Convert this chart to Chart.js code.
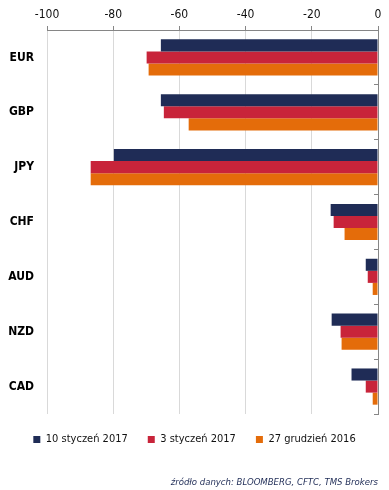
<!DOCTYPE html>
<html>
<head>
<meta charset="utf-8">
<script src="https://cdn.jsdelivr.net/npm/chart.js@4"></script>
<style>
  html, body { margin: 0; padding: 0; background: #fff; }
  #wrap { position: relative; width: 389px; height: 490px; }
  #zrodlo {
    position: absolute; right: 11px; top: 476px;
    font: italic 9.5px 'DejaVu Sans Condensed', 'DejaVu Sans', sans-serif;
    color: #1f2c56; white-space: nowrap;
  }
</style>
</head>
<body>
<div id="wrap">
  <canvas id="myChart"></canvas>
  <div id="zrodlo">źródło danych: BLOOMBERG, CFTC, TMS Brokers</div>
</div>
<script>
var categories = ['EUR', 'GBP', 'JPY', 'CHF', 'AUD', 'NZD', 'CAD'];
var seria_10_sty = [-65.6, -65.6, -79.8, -14.3, -3.7, -14.0, -8.0];
var seria_3_sty = [-69.9, -64.7, -86.8, -13.4, -3.1, -11.3, -3.7];
var seria_27_gru = [-69.3, -57.2, -86.8, -10.1, -1.6, -11.0, -1.6];
var xTicks = [-100, -80, -60, -40, -20, 0];

var font = "'DejaVu Sans Condensed', 'DejaVu Sans', sans-serif";

var ctx = document.getElementById('myChart').getContext('2d');
var chart = new Chart(ctx, {
    type: 'bar',
    data: {
        labels: categories,
        datasets: [{
            label: '10 styczeń 2017',
            data: seria_10_sty,
            backgroundColor: '#1f2c56'
        }, {
            label: '3 styczeń 2017',
            data: seria_3_sty,
            backgroundColor: '#c8243a'
        }, {
            label: '27 grudzień 2016',
            data: seria_27_gru,
            backgroundColor: '#e46c0a'
        }]
    },
    options: {
        indexAxis: 'y',
        responsive: true,
        maintainAspectRatio: false,
        animation: false,
        categoryPercentage: 0.66,
        barPercentage: 1,
        layout: { padding: { top: 0, left: 0, right: 0, bottom: 35 } },
        scales: {
            x: {
                position: 'top',
                min: -100,
                max: 0,
                afterBuildTicks: function (scale) {
                    scale.ticks = xTicks.map(function (v) { return { value: v }; });
                },
                afterFit: function (scale) { scale.height = 30; },
                grid: { color: '#d9d9d9', tickColor: '#868686', tickLength: 4 },
                border: { color: '#868686' },
                ticks: { color: '#111', font: { family: font, size: 12 }, padding: 4, maxRotation: 0 }
            },
            y: {
                position: 'left',
                afterFit: function (scale) { scale.width = 47; },
                grid: { display: false, drawTicks: false },
                border: { display: false },
                ticks: { color: '#000', font: { family: font, size: 12, weight: 'bold' }, padding: 13 }
            },
            y2: {
                type: 'category',
                labels: categories,
                position: 'right',
                offset: true,
                afterFit: function (scale) { scale.width = 11; },
                grid: { drawOnChartArea: false, tickColor: '#868686', tickLength: -4, offset: true },
                border: { color: '#868686' },
                ticks: { display: false }
            }
        },
        plugins: {
            legend: {
                position: 'bottom',
                labels: {
                    boxWidth: 7,
                    boxHeight: 7,
                    padding: 20,
                    color: '#111',
                    font: { family: font, size: 11 }
                }
            },
            tooltip: { enabled: false }
        }
    }
});
</script>
</body>
</html>
